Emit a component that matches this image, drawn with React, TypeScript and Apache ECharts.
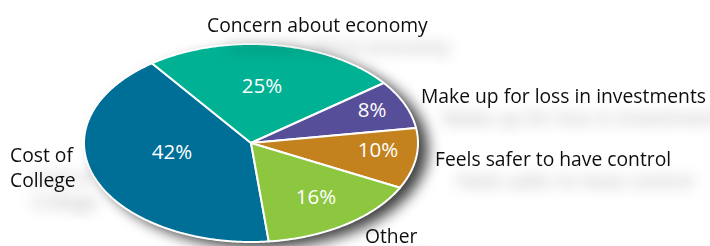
import React, { useEffect, useRef } from "react";
import * as echarts from "echarts";

// ---- data ----
const categories = [
  "Cost of College",
  "Concern about economy",
  "Make up for loss in investments",
  "Feels safer to have control",
  "Other",
];
const values = [42, 25, 8, 10, 16];
const colors = ["#006f98", "#00b193", "#574e9a", "#c4821f", "#8dc63f"];

// ---- layout (styling only) ----
const CX = 251;
const CY = 143;
const RX = 167;
const RY = 99;
const START_DEG = 83.9; // screen angle (clockwise from +x) where first slice begins
const pctPos: [number, number][] = [
  [172, 150.5],
  [262, 84.5],
  [372, 109],
  [378, 148.5],
  [316, 195.5],
];
const outerPos: [number, number][] = [
  [10, 167],
  [207, 24.5],
  [421, 95.5],
  [435, 158.5],
  [365, 235.5],
];
const FONT = '"Open Sans", "Noto Sans", sans-serif';

export default function App() {
  const ref = useRef<HTMLDivElement>(null);
  useEffect(() => {
    if (!ref.current) return;
    const chart = echarts.init(ref.current, undefined, { renderer: "svg" });
    const total = values.reduce((a, b) => a + b, 0);

    const labelText = (i: number) =>
      i === 0 ? categories[0].replace("Cost of ", "Cost of\n") : categories[i];

    const graphics: any[] = [
      {
        type: "ellipse",
        z: 0,
        shape: { cx: CX, cy: CY, rx: RX, ry: RY },
        style: {
          fill: "#ffffff",
          shadowBlur: 14,
          shadowColor: "rgba(0,0,0,0.75)",
          shadowOffsetX: 10,
          shadowOffsetY: 6,
        },
      },
      ...categories.map((_, i) => ({
        type: "text",
        z: 10,
        x: outerPos[i][0],
        y: outerPos[i][1],
        style: {
          text: labelText(i),
          fill: "#111111",
          font: `400 19.3px ${FONT}`,
          lineHeight: 25,
          align: "left",
          verticalAlign: "middle",
          textShadowColor: "rgba(0,0,0,0.32)",
          textShadowBlur: 14,
          textShadowOffsetX: 22,
          textShadowOffsetY: 22,
        },
      })),
    ];

    chart.setOption({
      animation: false,
      backgroundColor: "#ffffff",
      graphic: graphics,
      series: [
        {
          type: "custom",
          coordinateSystem: "none",
          z: 5,
          data: values.map((v, i) => ({ name: categories[i], value: v })),
          renderItem: (params: any, api: any) => {
            const i = params.dataIndex;
            let before = 0;
            for (let k = 0; k < i; k++) before += values[k];
            const a0 = START_DEG + (before / total) * 360;
            const a1 = a0 + (api.value(0) / total) * 360;
            const pts: number[][] = [[CX, CY]];
            const n = Math.max(2, Math.ceil(a1 - a0) * 2);
            for (let s = 0; s <= n; s++) {
              const a = ((a0 + ((a1 - a0) * s) / n) * Math.PI) / 180;
              pts.push([CX + RX * Math.cos(a), CY + RY * Math.sin(a)]);
            }
            return {
              type: "group",
              children: [
                {
                  type: "polygon",
                  shape: { points: pts },
                  style: {
                    fill: colors[i],
                    stroke: "#ffffff",
                    lineWidth: 2,
                    lineJoin: "round",
                  },
                },
                {
                  type: "text",
                  x: pctPos[i][0],
                  y: pctPos[i][1],
                  style: {
                    text: `${api.value(0)}%`,
                    fill: "#ffffff",
                    font: `400 20.5px ${FONT}`,
                    align: "center",
                    verticalAlign: "middle",
                  },
                },
              ],
            };
          },
        },
      ],
    });
    return () => chart.dispose();
  }, []);
  return (
    <div
      ref={ref}
      style={{ position: "fixed", left: 0, top: 0, width: 710, height: 246 }}
    />
  );
}
